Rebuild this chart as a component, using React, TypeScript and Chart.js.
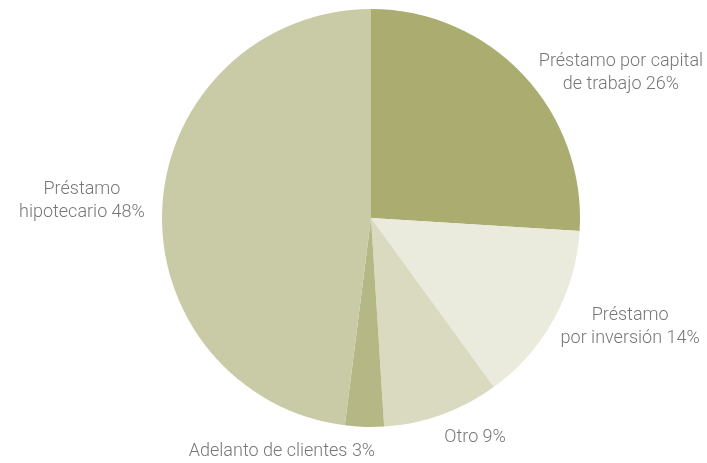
import React, { useEffect, useRef } from "react";
import { Chart, registerables } from "chart.js";

Chart.register(...registerables);

const categories: string[][] = [
  ["Préstamo por capital", "de trabajo 26%"],
  ["Préstamo", "por inversión 14%"],
  ["Otro 9%"],
  ["Adelanto de clientes 3%"],
  ["Préstamo", "hipotecario 48%"],
];
const values: number[] = [26, 14, 9, 3, 48];
const colors: string[] = ["#aaad6f", "#ebebdd", "#d9dac0", "#b5b885", "#c9cba7"];
// label anchor offsets from pie centre, in units of the radius
const labelOffsets: [number, number][] = [
  [1.196, -0.694],
  [1.24, 0.522],
  [0.498, 1.048],
  [-0.426, 1.115],
  [-1.383, -0.081],
];

const labelPlugin = {
  id: "sliceLabels",
  afterDraw(chart: any) {
    const meta = chart.getDatasetMeta(0);
    const arc = meta.data[0];
    if (!arc) return;
    const { x, y, outerRadius } = arc.getProps(["x", "y", "outerRadius"], true);
    const ctx = chart.ctx;
    ctx.save();
    ctx.font = "300 18px Roboto";
    ctx.fillStyle = "#777777";
    ctx.textAlign = "center";
    ctx.textBaseline = "middle";
    const lh = 23;
    categories.forEach((lines, i) => {
      const [ox, oy] = labelOffsets[i];
      const cx = x + ox * outerRadius;
      const cy = y + oy * outerRadius;
      const start = cy - ((lines.length - 1) * lh) / 2;
      lines.forEach((t, j) => ctx.fillText(t, cx, start + j * lh));
    });
    ctx.restore();
  },
};

export default function App() {
  const ref = useRef<HTMLCanvasElement>(null);
  useEffect(() => {
    if (!ref.current) return;
    const chart = new Chart(ref.current, {
      type: "pie",
      data: {
        labels: categories.map((l) => l.join(" ")),
        datasets: [
          {
            data: values,
            backgroundColor: colors,
            borderWidth: 0,
          },
        ],
      },
      options: {
        animation: false,
        responsive: false,
        layout: { padding: { top: 9, bottom: 36, left: 35, right: 0 } },
        plugins: {
          legend: { display: false },
          tooltip: { enabled: false },
        },
      },
      plugins: [labelPlugin],
    });
    return () => chart.destroy();
  }, []);
  return (
    <div style={{ position: "absolute", left: 0, top: 0, width: 707, height: 463, background: "#fff" }}>
      <canvas ref={ref} width={707} height={463} />
    </div>
  );
}
